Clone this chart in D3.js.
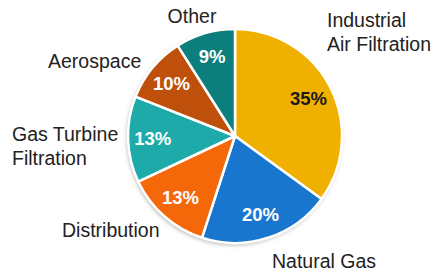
<!DOCTYPE html>
<html><head><meta charset="utf-8">
<script src="https://cdn.jsdelivr.net/npm/d3@7"></script>
<style>html,body{margin:0;padding:0;background:#fff;}svg{display:block;}</style>
</head><body>
<svg id="chart" width="438" height="275"></svg>
<script>
const categories = ["Industrial Air Filtration", "Natural Gas", "Distribution", "Gas Turbine Filtration", "Aerospace", "Other"];
const values = [35, 20, 13, 13, 10, 9];
const colors = ["#F0B000", "#1876CF", "#F5680A", "#1DAAA8", "#BE500C", "#0C7F7D"];
const labelLines = [["Industrial", "Air Filtration"], ["Natural Gas"], ["Distribution"], ["Gas Turbine", "Filtration"], ["Aerospace"], ["Other"]];

const svg = d3.select("#chart");
const cx = 235, cy = 136, r = 107;
const defs = svg.append("defs");
const f = defs.append("filter").attr("id", "sh").attr("x", "-20%").attr("y", "-20%").attr("width", "140%").attr("height", "140%");
f.append("feDropShadow").attr("dx", -1).attr("dy", 2).attr("stdDeviation", 2).attr("flood-color", "#000").attr("flood-opacity", 0.3);

const pie = d3.pie().sort(null).value(d => d);
const arcs = pie(values);
const arc = d3.arc().innerRadius(0).outerRadius(r);
const labelArc = d3.arc().innerRadius(r * 0.77).outerRadius(r * 0.77);

const g = svg.append("g").attr("transform", `translate(${cx},${cy})`);
g.append("circle").attr("r", r).attr("fill", "#fff").attr("filter", "url(#sh)");
g.selectAll("path.slice").data(arcs).join("path")
  .attr("class", "slice")
  .attr("d", arc)
  .attr("fill", (d, i) => colors[i])
  .attr("stroke", "#fff")
  .attr("stroke-width", 2.5)
  .attr("stroke-linejoin", "round");

g.selectAll("text.pct").data(arcs).join("text")
  .attr("class", "pct")
  .attr("transform", d => `translate(${labelArc.centroid(d)})`)
  .attr("text-anchor", "middle")
  .attr("dy", "0.35em")
  .attr("font-family", "Liberation Sans, Arial, sans-serif")
  .attr("font-weight", "bold")
  .attr("font-size", 18.5)
  .attr("fill", (d, i) => i === 0 ? "#1a1a1a" : "#fff")
  .text(d => d.data + "%");

const outerPos = [
  {x: 327, y: 27, anchor: "start"},
  {x: 272, y: 268, anchor: "start"},
  {x: 62, y: 237, anchor: "start"},
  {x: 12, y: 141, anchor: "start"},
  {x: 48, y: 68, anchor: "start"},
  {x: 192, y: 23, anchor: "middle"}
];
labelLines.forEach((lines, i) => {
  const t = svg.append("text")
    .attr("x", outerPos[i].x).attr("y", outerPos[i].y)
    .attr("text-anchor", outerPos[i].anchor)
    .attr("font-family", "Liberation Sans, Arial, sans-serif")
    .attr("font-size", 19.5)
    .attr("fill", "#222");
  lines.forEach((ln, j) => {
    t.append("tspan").attr("x", outerPos[i].x).attr("dy", j === 0 ? 0 : 23.5).text(ln);
  });
});
</script>
</body></html>
